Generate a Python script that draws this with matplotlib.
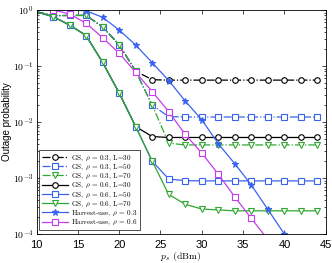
import numpy as np
import matplotlib
matplotlib.use("Agg")
import matplotlib.pyplot as plt
from matplotlib.ticker import FixedLocator, FixedFormatter, LogLocator, NullFormatter

plt.rcParams['mathtext.fontset'] = 'cm'
plt.rcParams['font.family'] = ['Liberation Sans', 'DejaVu Sans']
plt.rcParams['axes.unicode_minus'] = False

# transmit power grid (dBm)
ps = np.arange(10, 46, 2)

# GS, rho = 0.3 (dash-dot)
gs03_L30 = [0.93, 0.79, 0.80, 0.80, 0.50, 0.24, 0.081, 0.057, 0.056, 0.056, 0.056,
            0.056, 0.056, 0.056, 0.056, 0.056, 0.056, 0.056]
gs03_L50 = [0.93, 0.79, 0.80, 0.80, 0.50, 0.24, 0.081, 0.020, 0.0125, 0.0123, 0.0123,
            0.0123, 0.0123, 0.0123, 0.0123, 0.0123, 0.0123, 0.0123]
gs03_L70 = [0.93, 0.79, 0.80, 0.80, 0.50, 0.24, 0.081, 0.020, 0.0042, 0.0039, 0.0039,
            0.0039, 0.0039, 0.0039, 0.0039, 0.0039, 0.0039, 0.0039]
# GS, rho = 0.6 (solid)
gs06_L30 = [0.93, 0.76, 0.54, 0.35, 0.116, 0.033, 0.0083, 0.0055, 0.0053, 0.0053, 0.0053,
            0.0053, 0.0053, 0.0053, 0.0053, 0.0053, 0.0053, 0.0053]
gs06_L50 = [0.93, 0.76, 0.54, 0.35, 0.116, 0.033, 0.0083, 0.0020, 9.6e-4, 9.0e-4, 8.9e-4,
            8.9e-4, 8.9e-4, 8.9e-4, 8.9e-4, 8.9e-4, 8.9e-4, 8.9e-4]
gs06_L70 = [0.93, 0.76, 0.54, 0.35, 0.116, 0.033, 0.0083, 0.0020, 5.1e-4, 3.4e-4, 2.8e-4,
            2.7e-4, 2.6e-4, 2.6e-4, 2.6e-4, 2.6e-4, 2.6e-4, 2.6e-4]
# Harvest-use
hu03 = [1.0, 1.0, 1.0, 0.97, 0.74, 0.44, 0.237, 0.115, 0.055, 0.0237, 0.011, 0.0041,
        0.0018, 7.5e-4, 2.75e-4, 1.0e-4, 3.6e-5, 1.3e-5]
hu06 = [1.0, 1.0, 0.85, 0.58, 0.32, 0.17, 0.077, 0.035, 0.0153, 0.006, 0.0028, 0.00117,
        4.6e-4, 1.9e-4, 8e-5, 3.3e-5, 1.4e-5, 6e-6]

black = 'k'
blue = '#3a62f0'
green = '#2fa82f'
mag = '#c83cf0'

series = [
    (gs03_L30, 'GS, $\\rho$ = 0.3, L=30', black, '-.', 'o'),
    (gs03_L50, 'GS, $\\rho$ = 0.3, L=50', blue, '-.', 's'),
    (gs03_L70, 'GS, $\\rho$ = 0.3, L=70', green, '-.', 'v'),
    (gs06_L30, 'GS, $\\rho$ = 0.6, L=30', black, '-', 'o'),
    (gs06_L50, 'GS, $\\rho$ = 0.6, L=50', blue, '-', 's'),
    (gs06_L70, 'GS, $\\rho$ = 0.6, L=70', green, '-', 'v'),
    (hu03, 'Harvest-use, $\\rho$ = 0.3', blue, '-', '*'),
    (hu06, 'Harvest-use, $\\rho$ = 0.6', mag, '-', 's'),
]

fig = plt.figure(figsize=(3.32, 2.63), dpi=100)
ax = fig.add_axes([0.110, 0.110, 0.871, 0.852])

for vals, lab, col, ls, mk in series:
    face = col if mk == '*' else 'white'
    ax.plot(ps, vals, color=col, linestyle=ls, linewidth=0.9, marker=mk,
            markersize=4.8 if mk == '*' else 4.0, markerfacecolor=face,
            markeredgecolor=col, markeredgewidth=0.8, markevery=slice(1, None),
            label=lab)

ax.set_yscale('log')
ax.set_xlim(10, 45)
ax.set_ylim(1e-4, 1)
ax.set_xticks([10, 15, 20, 25, 30, 35, 40, 45])
ax.set_xticklabels(['10', '15', '20', '25', '30', '35', '40', '45'], fontsize=8)
ax.yaxis.set_major_locator(FixedLocator([1e-4, 1e-3, 1e-2, 1e-1, 1]))
ax.yaxis.set_major_formatter(FixedFormatter([r'$\mathsf{10^{-4}}$', r'$\mathsf{10^{-3}}$',
                                             r'$\mathsf{10^{-2}}$', r'$\mathsf{10^{-1}}$',
                                             r'$\mathsf{10^{0}}$']))
ax.yaxis.set_minor_locator(LogLocator(base=10, subs=np.arange(2, 10)))
ax.yaxis.set_minor_formatter(NullFormatter())
ax.tick_params(which='both', direction='in', top=True, right=True, width=0.5)
ax.tick_params(axis='x', pad=4, labelsize=8)
ax.tick_params(axis='y', pad=2, labelsize=7)
ax.tick_params(which='major', length=3)
ax.tick_params(which='minor', length=1.5)
for s in ax.spines.values():
    s.set_linewidth(0.6)

ax.set_xlabel('$p_s$ (dBm)', fontsize=7, family='cmr10', labelpad=0)
ax.set_ylabel('Outage probability', fontsize=7, labelpad=1)

leg = ax.legend(loc='lower left', prop={'family': 'cmr10', 'size': 5.2},
                frameon=True, fancybox=False, edgecolor='k', handlelength=3.6,
                labelspacing=-0.05, borderpad=0.4, handletextpad=0.5,
                borderaxespad=0, bbox_to_anchor=(0.008, 0.017))
leg.get_frame().set_linewidth(0.6)

fig.savefig('out.png', dpi=100)
